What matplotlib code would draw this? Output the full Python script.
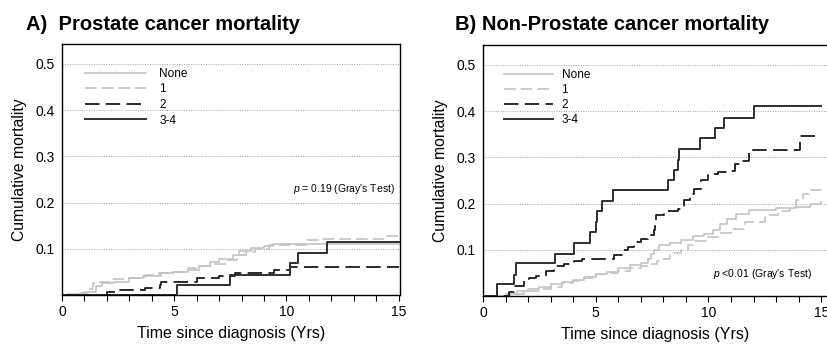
import matplotlib
matplotlib.use("Agg")
import matplotlib.pyplot as plt
from matplotlib.ticker import MultipleLocator

plt.rcParams['font.family'] = ['Liberation Sans', 'DejaVu Sans']
plt.rcParams['mathtext.fontset'] = 'custom'
plt.rcParams['mathtext.it'] = 'Liberation Sans:italic'
plt.rcParams['mathtext.rm'] = 'Liberation Sans'

labels = ["None", "1", "2", "3-4"]

# Panel A: prostate cancer mortality (event times, cumulative values)
a_none_t = [0.4, 1.0, 1.5, 1.8, 2.3, 3.0, 3.6, 4.4, 5.0, 5.6, 6.1, 6.6, 7.0,
            7.6, 7.9, 8.4, 9.0, 9.4, 15.0]
a_none_y = [0.003, 0.006, 0.019, 0.026, 0.029, 0.037, 0.041, 0.047, 0.050,
            0.055, 0.062, 0.071, 0.078, 0.086, 0.095, 0.102, 0.106, 0.110,
            0.110]
a_one_t = [0.2, 0.8, 1.25, 1.4, 1.6, 2.2, 2.9, 3.7, 4.3, 4.9, 5.6, 6.2, 6.8,
           7.3, 7.8, 8.2, 8.6, 9.2, 10.9, 11.6, 14.4, 15.0]
a_one_y = [0.002, 0.005, 0.012, 0.026, 0.029, 0.034, 0.037, 0.043, 0.047,
           0.050, 0.058, 0.063, 0.068, 0.076, 0.086, 0.094, 0.100, 0.109,
           0.118, 0.121, 0.128, 0.128]
a_two_t = [2.0, 2.5, 3.7, 4.35, 4.4, 6.0, 7.0, 7.7, 9.45, 10.15, 15.0]
a_two_y = [0.006, 0.010, 0.015, 0.022, 0.029, 0.037, 0.042, 0.048, 0.055,
           0.060, 0.060]
a_three_t = [5.13, 7.48, 10.15, 10.52, 11.8, 15.0]
a_three_y = [0.022, 0.044, 0.069, 0.091, 0.114, 0.114]

# Panel B: non-prostate cancer mortality
b_none_t = [1.0, 1.5, 2.0, 2.5, 3.0, 3.5, 4.0, 4.5, 5.0, 5.5, 6.0, 6.5, 7.0,
            7.3, 7.45, 7.6, 7.8, 8.3, 8.8, 9.3, 9.8, 10.2, 10.5, 10.8, 11.2,
            11.8, 13.0, 13.9, 14.5, 15.0]
b_none_y = [0.005, 0.010, 0.015, 0.020, 0.025, 0.030, 0.035, 0.042, 0.048,
            0.052, 0.060, 0.066, 0.072, 0.080, 0.090, 0.100, 0.110, 0.115,
            0.122, 0.129, 0.135, 0.143, 0.155, 0.167, 0.178, 0.186, 0.190,
            0.193, 0.200, 0.203]
b_one_t = [1.2, 1.8, 2.5, 3.0, 3.5, 4.0, 4.5, 5.0, 5.5, 6.0, 6.5, 7.0, 7.4,
           7.7, 8.0, 8.3, 8.8, 9.1, 9.4, 10.0, 10.4, 11.0, 11.6, 12.5, 13.1,
           13.6, 13.9, 14.2, 14.5, 15.0]
b_one_y = [0.004, 0.010, 0.015, 0.020, 0.028, 0.033, 0.040, 0.047, 0.050,
           0.055, 0.060, 0.065, 0.070, 0.076, 0.080, 0.093, 0.100, 0.110,
           0.118, 0.128, 0.136, 0.146, 0.161, 0.175, 0.185, 0.193, 0.207,
           0.221, 0.229, 0.229]
b_two_t = [1.16, 1.38, 1.82, 2.04, 2.33, 2.78, 3.16, 3.6, 4.04, 4.4, 5.82,
           6.2, 6.42, 6.71, 7.0, 7.3, 7.6, 7.65, 7.67, 8.04, 8.64, 8.93, 9.16,
           9.38, 9.67, 9.97, 10.4, 11.0, 11.16, 11.4, 11.8, 14.04, 15.0]
b_two_y = [0.009, 0.021, 0.032, 0.039, 0.044, 0.054, 0.064, 0.070, 0.075,
           0.080, 0.089, 0.100, 0.107, 0.116, 0.123, 0.132, 0.143, 0.164,
           0.175, 0.184, 0.189, 0.207, 0.221, 0.232, 0.250, 0.264, 0.268,
           0.271, 0.286, 0.293, 0.317, 0.346, 0.346]
b_three_t = [0.61, 1.38, 1.45, 3.19, 4.04, 4.74, 5.0, 5.05, 5.3, 5.75, 8.19,
             8.49, 8.64, 8.7, 9.64, 10.27, 10.71, 12.0, 15.0]
b_three_y = [0.025, 0.046, 0.071, 0.091, 0.114, 0.138, 0.161, 0.184, 0.205,
             0.229, 0.250, 0.273, 0.295, 0.318, 0.343, 0.363, 0.386, 0.411,
             0.411]

styles = [
    dict(color='#c2c2c2', linestyle='-', lw=1.2),
    dict(color='#c2c2c2', linestyle=(0, (7, 3)), lw=1.2),
    dict(color='#1a1a1a', linestyle=(0, (8, 3.5)), lw=1.3),
    dict(color='#2e2e2e', linestyle='-', lw=1.4),
]


def draw_curve(ax, t, y, style, label):
    xs = [0, t[0]] + t
    ys = [0, 0] + y
    ax.step(xs, ys, where='post', label=label, **style)


def setup_axis(ax, xmax):
    ax.set_xlim(0, xmax)
    ax.set_ylim(0, 0.543)
    ax.set_xticks([0, 5, 10, 15])
    ax.xaxis.set_minor_locator(MultipleLocator(1))
    ax.set_yticks([0.1, 0.2, 0.3, 0.4, 0.5])
    ax.set_yticklabels(["0.1", "0.2", "0.3", "0.4", "0.5"])
    ax.tick_params(axis='x', which='both', direction='out', length=4,
                   width=0.8, labelsize=10, pad=3)
    ax.tick_params(axis='y', length=0, labelsize=10, pad=5)
    for y in [0.1, 0.2, 0.3, 0.4, 0.5]:
        ax.axhline(y, color='#a0a0a0', linestyle=(0, (1, 1.5)), lw=0.7,
                   zorder=0)
    for s in ax.spines.values():
        s.set_linewidth(1.0)
    ax.set_xlabel("Time since diagnosis (Yrs)", fontsize=11.5, labelpad=5)
    ax.set_ylabel("Cumulative mortality", fontsize=11.3, labelpad=6)


fig = plt.figure(figsize=(8.28, 3.47), dpi=100)
ax1 = fig.add_axes([0.0749, 0.150, 0.408, 0.723])
ax2 = fig.add_axes([0.5833, 0.147, 0.4167, 0.723])

for t, y, st, lab in zip([a_none_t, a_one_t, a_two_t, a_three_t],
                         [a_none_y, a_one_y, a_two_y, a_three_y],
                         styles, labels):
    draw_curve(ax1, t, y, st, lab)
for t, y, st, lab in zip([b_none_t, b_one_t, b_two_t, b_three_t],
                         [b_none_y, b_one_y, b_two_y, b_three_y],
                         styles, labels):
    draw_curve(ax2, t, y, st, lab)

setup_axis(ax1, 15.05)
setup_axis(ax2, 15.3)

ax1.legend(loc='upper left', bbox_to_anchor=(0.068, 0.905), frameon=False,
           fontsize=8.5, handlelength=5.2, handletextpad=1.1,
           labelspacing=0.3, borderpad=0, borderaxespad=0)
ax2.legend(loc='upper left', bbox_to_anchor=(0.06, 0.905), frameon=False,
           fontsize=8.5, handlelength=4.2, handletextpad=0.7,
           labelspacing=0.25, borderpad=0, borderaxespad=0)

ax1.text(14.85, 0.229, r"$\it{p}$ = 0.19 (Gray's Test)", fontsize=7.5,
         ha='right', va='center')
ax2.text(14.6, 0.048, r"$\it{p}$ <0.01 (Gray's Test)", fontsize=7.5,
         ha='right', va='center')

fig.text(0.032, 0.913, "A)  Prostate cancer mortality", fontsize=14.5,
         fontweight='bold', ha='left', va='baseline')
fig.text(0.550, 0.913, "B) Non-Prostate cancer mortality", fontsize=14.5,
         fontweight='bold', ha='left', va='baseline')

fig.savefig("out.png", dpi=100)
